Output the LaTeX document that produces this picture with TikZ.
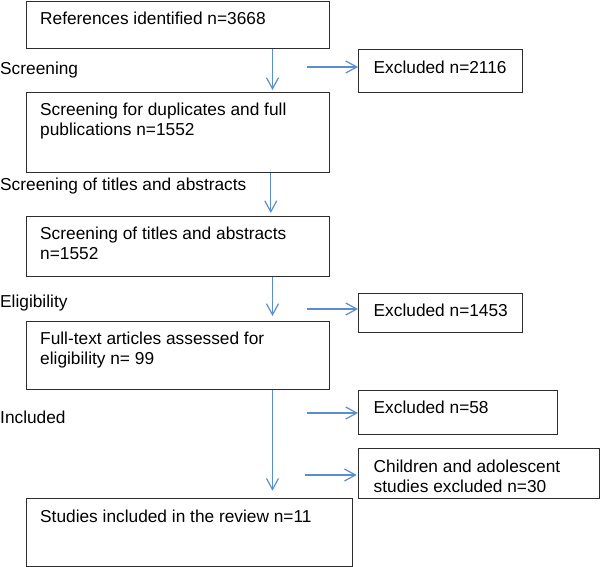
\documentclass[tikz,border=0pt]{standalone}
\usepackage{fontspec}
\setmainfont{Liberation Sans}
\usetikzlibrary{arrows.meta}
\definecolor{arrblue}{RGB}{91,142,207}
\definecolor{boxgray}{RGB}{45,45,45}
\begin{document}
\begin{tikzpicture}[x=1pt,y=-1pt,
  box/.style={draw=boxgray,line width=1.3pt,inner sep=0pt,anchor=north west},
  txt/.style={anchor=north west,inner sep=0pt,align=left,font=\fontsize{17.3}{20}\selectfont},
  arr/.style={draw=arrblue,line width=1.2pt,-{Straight Barb[length=11pt,width=12pt,line width=1.2pt]}}]
\useasboundingbox (0,0) rectangle (600,567);
% main boxes
\node[box,minimum width=303pt,minimum height=46.7pt] (b1) at (26,1) {};
\node[box,minimum width=303pt,minimum height=79.7pt] (b2) at (26,92) {};
\node[box,minimum width=303pt,minimum height=60pt] (b3) at (26,215.7) {};
\node[box,minimum width=303pt,minimum height=68.3pt] (b4) at (26,320.7) {};
\node[box,minimum width=325.7pt,minimum height=68pt] (b5) at (26,497.7) {};
% side boxes
\node[box,minimum width=164pt,minimum height=43pt] (e1) at (358,49) {};
\node[box,minimum width=164pt,minimum height=39pt] (e2) at (358,293) {};
\node[box,minimum width=199pt,minimum height=44pt] (e3) at (358,390) {};
\node[box,minimum width=240.5pt,minimum height=49.7pt] (e4) at (358,448) {};
% box texts
\node[txt] (t1) at (40,10) {\strut References identified n=3668};
\node[txt] (t2) at (40,101) {\strut Screening for duplicates and full\\\strut publications n=1552};
\node[txt] (t3) at (40,225) {\strut Screening of titles and abstracts\\\strut n=1552};
\node[txt] (t4) at (40,330) {\strut Full-text articles assessed for\\\strut eligibility n= 99};
\node[txt] (t5) at (40,508) {\strut Studies included in the review n=11};
\node[txt] (te1) at (373.5,59) {\strut Excluded n=2116};
\node[txt] (te2) at (373.5,302) {\strut Excluded n=1453};
\node[txt] (te3) at (373.5,399) {\strut Excluded n=58};
\node[txt] (te4) at (373.5,458) {\strut Children and adolescent\\\strut studies excluded n=30};
% stage labels
\node[txt] (l1) at (0,60) {\strut Screening};
\node[txt] (l2) at (0,176) {\strut Screening of titles and abstracts};
\node[txt] (l3) at (0,293) {\strut Eligibility};
\node[txt] (l4) at (0,409) {\strut Included};
% vertical arrows
\coordinate (ax) at (272.5,0);
\coordinate (ax2) at (270.8,0);
\draw[arr] (b1.south -| ax) -- ([yshift=2pt]b2.north -| ax);
\draw[arr] (b2.south -| ax2) -- ([yshift=2.7pt]b3.north -| ax2);
\draw[arr] (b3.south -| ax) -- ([yshift=4.7pt]b4.north -| ax);
\draw[arr] (b4.south -| ax) -- ([yshift=7pt]b5.north -| ax);
% horizontal arrows
\coordinate (h1) at (307,67);
\coordinate (h2) at (307,309);
\coordinate (h3) at (307,413);
\coordinate (h4) at (305,475);
\draw[arr] (h1) -- (e1.west |- h1);
\draw[arr] (h2) -- (e2.west |- h2);
\draw[arr] (h3) -- (e3.west |- h3);
\draw[arr] (h4) -- ([xshift=-1.3pt]e4.west |- h4);
\end{tikzpicture}
\end{document}
